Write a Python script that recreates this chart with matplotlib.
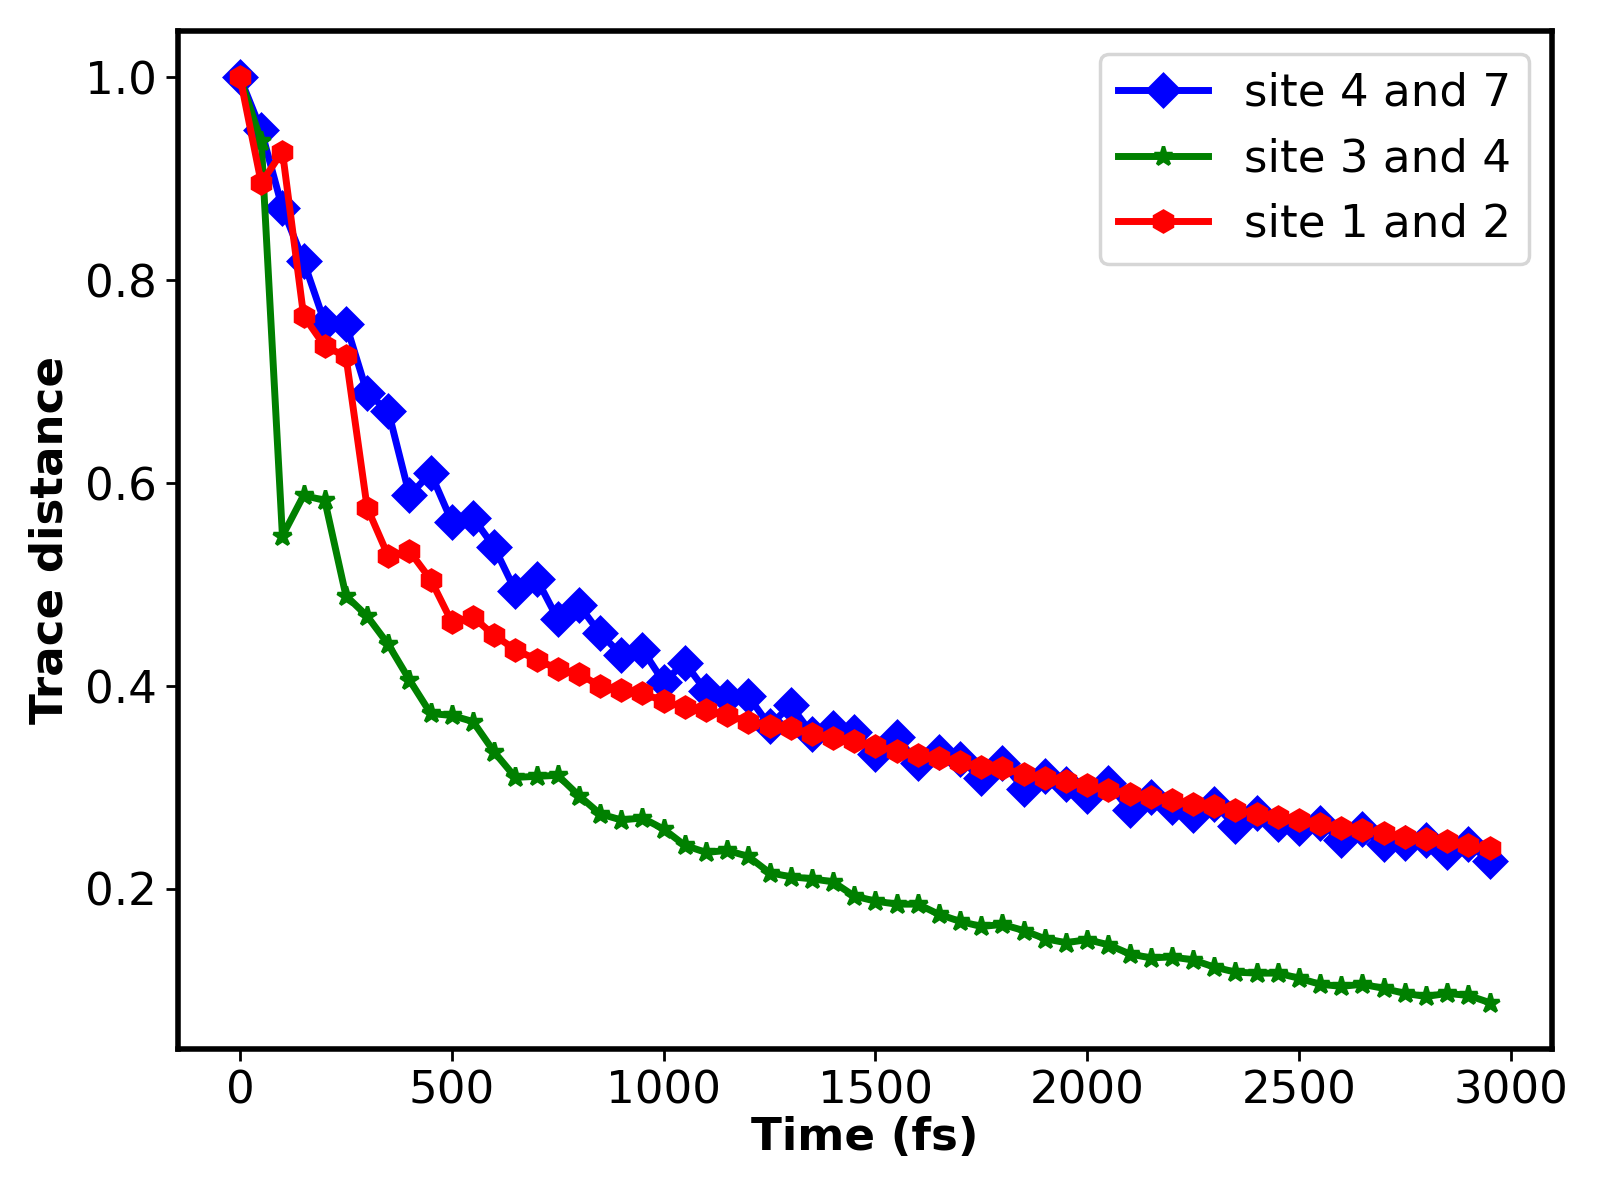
import numpy as np
import matplotlib
matplotlib.use('Agg')
import matplotlib.pyplot as plt

time_fs = np.arange(0, 3000, 50)

site47 = [1.000, 0.948, 0.871, 0.819, 0.758, 0.757, 0.689, 0.671, 0.588, 0.610,
          0.562, 0.566, 0.537, 0.494, 0.506, 0.466, 0.480, 0.452, 0.431, 0.436,
          0.404, 0.423, 0.395, 0.389, 0.390, 0.361, 0.381, 0.353, 0.359, 0.355,
          0.333, 0.350, 0.324, 0.335, 0.328, 0.309, 0.324, 0.299, 0.311, 0.303,
          0.292, 0.304, 0.278, 0.291, 0.281, 0.273, 0.284, 0.262, 0.275, 0.264,
          0.260, 0.265, 0.248, 0.259, 0.244, 0.245, 0.248, 0.236, 0.244, 0.228]

site34 = [1.000, 0.937, 0.548, 0.588, 0.583, 0.489, 0.469, 0.441, 0.406, 0.373,
          0.371, 0.365, 0.335, 0.310, 0.311, 0.312, 0.292, 0.274, 0.268, 0.270,
          0.259, 0.243, 0.236, 0.238, 0.232, 0.216, 0.212, 0.210, 0.207, 0.193,
          0.188, 0.185, 0.185, 0.175, 0.168, 0.163, 0.165, 0.159, 0.151, 0.147,
          0.150, 0.145, 0.136, 0.132, 0.133, 0.130, 0.123, 0.118, 0.117, 0.117,
          0.112, 0.106, 0.104, 0.106, 0.102, 0.097, 0.094, 0.097, 0.095, 0.088]

site12 = [1.000, 0.896, 0.927, 0.765, 0.735, 0.725, 0.576, 0.528, 0.533, 0.505,
          0.463, 0.468, 0.450, 0.436, 0.426, 0.417, 0.412, 0.400, 0.396, 0.393,
          0.385, 0.379, 0.376, 0.371, 0.365, 0.361, 0.359, 0.353, 0.349, 0.346,
          0.341, 0.336, 0.332, 0.329, 0.325, 0.320, 0.319, 0.313, 0.309, 0.306,
          0.302, 0.298, 0.294, 0.291, 0.288, 0.284, 0.282, 0.278, 0.274, 0.271,
          0.268, 0.264, 0.260, 0.258, 0.255, 0.251, 0.249, 0.247, 0.243, 0.240]

fig, ax = plt.subplots(figsize=(6.4, 4.8), dpi=250)
ax.plot(time_fs, site47, color='blue', marker='D', markersize=6.5, linewidth=2, label='site 4 and 7')
ax.plot(time_fs, site34, color='green', marker='*', markersize=5.5, linewidth=2, label='site 3 and 4')
ax.plot(time_fs, site12, color='red', marker='h', markersize=6, linewidth=2, label='site 1 and 2')

ax.set_xlabel('Time (fs)', fontsize=13, fontweight='bold', labelpad=1)
ax.set_ylabel('Trace distance', fontsize=13, fontweight='bold')
ax.tick_params(labelsize=13, pad=2.5)
for s in ax.spines.values():
    s.set_linewidth(1.6)
ax.legend(loc='upper right', fontsize=13)

fig.subplots_adjust(left=0.111, right=0.970, top=0.974, bottom=0.126)
plt.savefig('out.png')
